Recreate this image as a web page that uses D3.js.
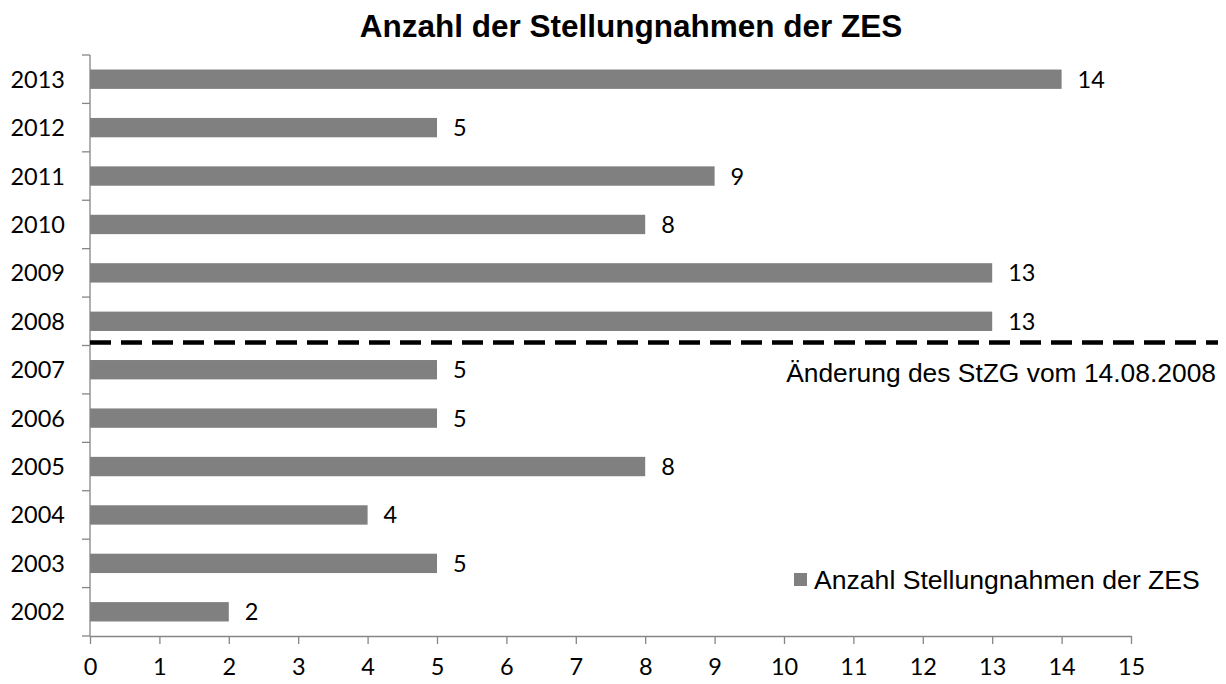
<!DOCTYPE html>
<html>
<head>
<meta charset="utf-8">
<script src="https://cdn.jsdelivr.net/npm/d3@7"></script>
<style>
  body { margin: 0; background: #fff; }
  svg text { fill: #000; }
</style>
</head>
<body>
<div id="chart"></div>
<script>
var w = 1226;
var h = 684;

var margin = {
  top: 55,
  bottom: 48,
  left: 90,
  right: 95
}

var width = w - margin.left - margin.right;
var height = h - margin.top - margin.bottom;

// data, top to bottom as in the chart
var years = ["2013", "2012", "2011", "2010", "2009", "2008", "2007", "2006", "2005", "2004", "2003", "2002"];
var counts = [14, 5, 9, 8, 13, 13, 5, 5, 8, 4, 5, 2];
var xTicks = [0, 1, 2, 3, 4, 5, 6, 7, 8, 9, 10, 11, 12, 13, 14, 15];
var title = "Anzahl der Stellungnahmen der ZES";
var seriesName = "Anzahl Stellungnahmen der ZES";
var markerAfter = "2008";
var markerText = "Änderung des StZG vom 14.08.2008";

var data = years.map(function (y, i) {
  return { year: y, value: counts[i] };
});

var numFont = "Lato, 'Open Sans', sans-serif";
var arial = "'Liberation Sans', Arial, sans-serif";

var x = d3.scaleLinear().domain([0, 15]).range([0, width]);
var y = d3.scaleBand().domain(years).range([0, height]).paddingInner(0.6).paddingOuter(0.3);

var svg = d3.select("#chart").append("svg")
  .attr("width", w)
  .attr("height", h);

svg.append("text")
  .attr("x", 631)
  .attr("y", 37)
  .attr("text-anchor", "middle")
  .style("font-family", arial)
  .style("font-weight", "bold")
  .style("font-size", "31.5px")
  .text(title);

var chart = svg.append("g").attr("transform", "translate(" + margin.left + "," + margin.top + ")");

chart.selectAll("rect.bar")
  .data(data)
  .join("rect")
  .attr("class", "bar")
  .attr("x", 0)
  .attr("y", function (d) { return y(d.year); })
  .attr("width", function (d) { return x(d.value); })
  .attr("height", y.bandwidth())
  .style("fill", "#808080");

chart.selectAll("text.val")
  .data(data)
  .join("text")
  .attr("class", "val")
  .attr("x", function (d) { return x(d.value) + 16; })
  .attr("y", function (d) { return y(d.year) + y.bandwidth() / 2; })
  .attr("dy", "0.36em")
  .style("font-family", numFont)
  .style("font-size", "23.5px")
  .text(function (d) { return d.value; });

// y axis: ticks on category boundaries
var step = y.step();
var yAxisG = chart.append("g");
yAxisG.append("line")
  .attr("x1", 0).attr("x2", 0)
  .attr("y1", 0).attr("y2", height)
  .style("stroke", "#868686").style("stroke-width", 1.3);
yAxisG.selectAll("line.tk")
  .data(d3.range(years.length + 1))
  .join("line")
  .attr("class", "tk")
  .attr("x1", -8).attr("x2", 0)
  .attr("y1", function (i) { return i * height / years.length; })
  .attr("y2", function (i) { return i * height / years.length; })
  .style("stroke", "#868686").style("stroke-width", 1.3);
yAxisG.selectAll("text")
  .data(years)
  .join("text")
  .attr("x", -25)
  .attr("y", function (d) { return y(d) + y.bandwidth() / 2; })
  .attr("dy", "0.36em")
  .attr("text-anchor", "end")
  .style("font-family", numFont)
  .style("font-size", "23.5px")
  .text(function (d) { return d; });

// x axis
var xAxis = chart.append("g")
  .attr("transform", "translate(0," + height + ")")
  .call(d3.axisBottom(x).tickValues(xTicks).tickSize(8).tickPadding(14).tickSizeOuter(0));
xAxis.select(".domain").style("stroke", "#868686").style("stroke-width", 1.3);
xAxis.selectAll(".tick line").style("stroke", "#868686").style("stroke-width", 1.3);
xAxis.selectAll(".tick text")
  .style("font-family", numFont)
  .style("font-size", "23.5px")
  .style("fill", "#000");

// dashed marker between 2008 and 2007
var markerY = y(markerAfter) + y.bandwidth() + (step - y.bandwidth()) / 2 - 3;
chart.append("line")
  .attr("x1", 0)
  .attr("x2", w - margin.left - 8)
  .attr("y1", markerY)
  .attr("y2", markerY)
  .style("stroke", "#000")
  .style("stroke-width", 4.5)
  .style("stroke-dasharray", "21,10");

chart.append("text")
  .attr("x", w - margin.left - 10)
  .attr("y", markerY + 39)
  .attr("text-anchor", "end")
  .style("font-family", arial)
  .style("font-size", "26.4px")
  .text(markerText);

// legend
var legend = svg.append("g").attr("transform", "translate(794,573)");
legend.append("rect")
  .attr("width", 13).attr("height", 13)
  .style("fill", "#808080");
legend.append("text")
  .attr("x", 20)
  .attr("y", 6.5)
  .attr("dy", "0.36em")
  .style("font-family", arial)
  .style("font-size", "26.6px")
  .text(seriesName);
</script>
</body>
</html>
